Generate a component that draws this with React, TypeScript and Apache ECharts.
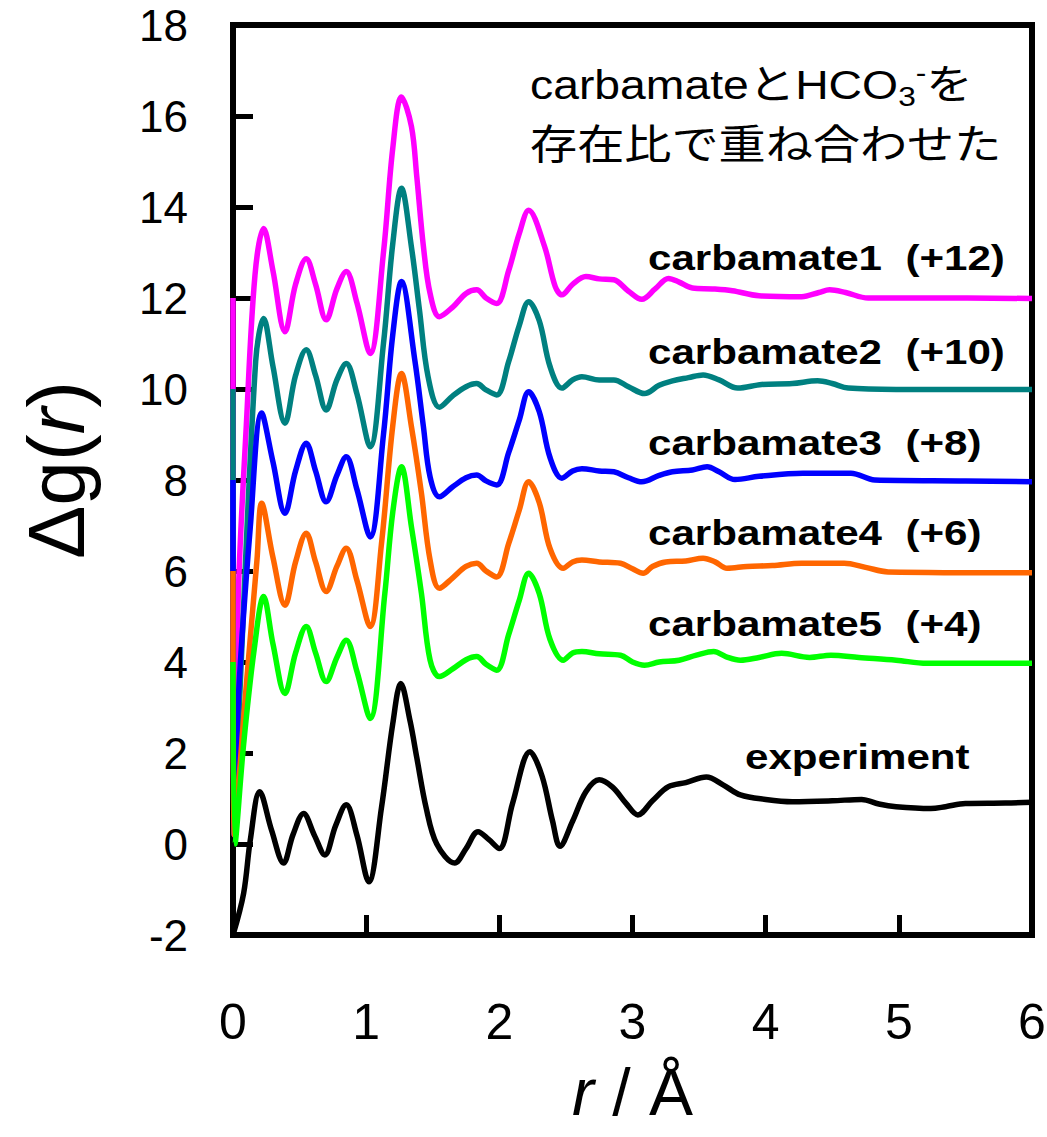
import React, { useEffect, useRef } from "react";
import * as echarts from "echarts";

// Δg(r) curves, [r (Å), Δg] pairs, before vertical shifting.
const carbamate1: number[][] = [
  [0, 0], [0.01, -11.8], [0.04, -6.5], [0.1, -2.8], [0.165, 0.5], [0.23, 1.53], [0.3, 0.6], [0.39, -0.74],
  [0.47, 0.3], [0.55, 0.86], [0.62, 0.3], [0.7, -0.48], [0.78, 0.2], [0.85, 0.58], [0.93, -0.1], [1.03, -1.22],
  [1.13, 1.0], [1.2, 3.3], [1.265, 4.42], [1.34, 3.77], [1.38, 2.67], [1.43, 1.13], [1.48, 0.1], [1.55, -0.41],
  [1.65, -0.2], [1.75, 0.1], [1.83, 0.18], [1.9, 0.0], [1.98, -0.12], [2.07, 0.6], [2.15, 1.42], [2.22, 1.93],
  [2.34, 1.13], [2.42, 0.25], [2.47, 0.07], [2.55, 0.3], [2.65, 0.47], [2.75, 0.42], [2.86, 0.4], [2.97, 0.15],
  [3.07, -0.03], [3.17, 0.2], [3.27, 0.43], [3.35, 0.35], [3.45, 0.22], [3.6, 0.2], [3.75, 0.16], [3.95, 0.05],
  [4.27, 0.03], [4.4, 0.12], [4.48, 0.18], [4.6, 0.12], [4.77, 0.0], [5.2, 0.0], [6.0, -0.01],
];

const carbamate2: number[][] = [
  [0, 0], [0.01, -9.8], [0.05, -6.8], [0.17, 0.6], [0.23, 1.55], [0.3, 0.5], [0.39, -0.75], [0.47, 0.3],
  [0.55, 0.86], [0.62, 0.3], [0.7, -0.46], [0.78, 0.2], [0.85, 0.56], [0.93, -0.1], [1.03, -1.27], [1.13, 1.0],
  [1.2, 3.2], [1.265, 4.41], [1.34, 3.12], [1.4, 1.74], [1.465, 0.27], [1.55, -0.4], [1.65, -0.15], [1.75, 0.05],
  [1.83, 0.12], [1.9, -0.02], [1.98, -0.13], [2.07, 0.6], [2.15, 1.4], [2.22, 1.92], [2.3, 1.5], [2.38, 0.5],
  [2.47, 0.02], [2.55, 0.2], [2.62, 0.27], [2.75, 0.2], [2.86, 0.2], [2.97, 0.05], [3.09, -0.1], [3.2, 0.08],
  [3.3, 0.18], [3.42, 0.25], [3.53, 0.31], [3.65, 0.2], [3.79, 0.02], [3.97, 0.1], [4.2, 0.12], [4.39, 0.18],
  [4.5, 0.12], [4.62, 0.02], [4.98, -0.01], [6.0, -0.01],
];

const carbamate3: number[][] = [
  [0, 0], [0.01, -7.8], [0.04, -4.8], [0.13, -1.03], [0.215, 1.47], [0.3, 0.4], [0.39, -0.73], [0.47, 0.2],
  [0.55, 0.81], [0.62, 0.2], [0.7, -0.48], [0.78, 0.1], [0.85, 0.51], [0.93, -0.2], [1.03, -1.25], [1.13, 1.0],
  [1.2, 3.2], [1.265, 4.36], [1.365, 2.64], [1.43, 1.17], [1.48, 0.07], [1.55, -0.37], [1.65, -0.15], [1.75, 0.05],
  [1.83, 0.11], [1.9, -0.02], [1.98, -0.11], [2.07, 0.6], [2.15, 1.32], [2.22, 1.94], [2.3, 1.5], [2.38, 0.5],
  [2.47, 0.04], [2.55, 0.2], [2.62, 0.25], [2.75, 0.2], [2.86, 0.18], [2.97, 0.05], [3.07, -0.04], [3.2, 0.1],
  [3.3, 0.18], [3.45, 0.22], [3.56, 0.29], [3.65, 0.18], [3.77, 0.01], [3.95, 0.08], [4.28, 0.15], [4.64, 0.15],
  [4.82, 0.0], [5.5, -0.02], [6.0, -0.04],
];

const carbamate4: number[][] = [
  [0, 0], [0.01, -5.8], [0.1, -2.5], [0.18, 0.24], [0.215, 1.49], [0.3, 0.3], [0.39, -0.75], [0.47, 0.2],
  [0.55, 0.83], [0.62, 0.2], [0.7, -0.45], [0.78, 0.1], [0.85, 0.5], [0.93, -0.2], [1.03, -1.22], [1.115, 0.6],
  [1.2, 3.2], [1.265, 4.34], [1.34, 3.17], [1.415, 1.71], [1.48, 0.24], [1.55, -0.38], [1.65, -0.15], [1.75, 0.1],
  [1.83, 0.17], [1.9, 0.0], [1.98, -0.13], [2.07, 0.6], [2.15, 1.34], [2.22, 1.96], [2.3, 1.5], [2.38, 0.5],
  [2.48, 0.06], [2.55, 0.2], [2.62, 0.24], [2.75, 0.2], [2.91, 0.17], [3.0, 0.05], [3.08, -0.05], [3.15, 0.1],
  [3.25, 0.2], [3.4, 0.22], [3.53, 0.28], [3.62, 0.2], [3.71, 0.06], [3.86, 0.1], [4.05, 0.12], [4.27, 0.17],
  [4.59, 0.17], [4.75, 0.08], [4.92, -0.02], [6.0, -0.04],
];

const carbamate5: number[][] = [
  [0, 0], [0.015, -4.0], [0.08, -1.8], [0.16, 0.3], [0.23, 1.44], [0.3, 0.4], [0.39, -0.69], [0.47, 0.2],
  [0.55, 0.78], [0.62, 0.2], [0.7, -0.43], [0.78, 0.1], [0.85, 0.48], [0.93, -0.2], [1.03, -1.24], [1.14, 1.5],
  [1.2, 3.3], [1.265, 4.29], [1.34, 2.97], [1.415, 1.51], [1.48, 0.04], [1.55, -0.32], [1.65, -0.15], [1.75, 0.05],
  [1.83, 0.12], [1.9, -0.05], [1.98, -0.18], [2.07, 0.6], [2.15, 1.36], [2.22, 1.95], [2.3, 1.5], [2.38, 0.5],
  [2.48, 0.04], [2.55, 0.2], [2.62, 0.23], [2.75, 0.18], [2.91, 0.15], [3.0, 0.0], [3.09, -0.07], [3.2, 0.0],
  [3.35, 0.04], [3.48, 0.15], [3.61, 0.23], [3.7, 0.12], [3.81, 0.04], [3.95, 0.1], [4.12, 0.19], [4.33, 0.1],
  [4.49, 0.15], [4.7, 0.1], [4.98, 0.04], [5.21, -0.03], [6.0, -0.03],
];

const experiment: number[][] = [
  [0, -2], [0.08, -1.08], [0.13, 0.09], [0.2, 1.15], [0.29, 0.3], [0.38, -0.42], [0.45, 0.2], [0.53, 0.67],
  [0.61, 0.2], [0.69, -0.24], [0.77, 0.4], [0.85, 0.86], [0.93, 0.2], [1.02, -0.83], [1.115, 0.8], [1.2, 2.65],
  [1.26, 3.53], [1.33, 2.7], [1.38, 1.9], [1.45, 0.8], [1.53, 0.0], [1.665, -0.42], [1.75, -0.1], [1.84, 0.27],
  [1.92, 0.1], [2.0, -0.1], [2.1, 0.9], [2.23, 2.03], [2.32, 1.5], [2.4, 0.5], [2.455, -0.05], [2.55, 0.5],
  [2.65, 1.15], [2.75, 1.41], [2.85, 1.25], [2.95, 0.9], [3.04, 0.64], [3.15, 0.95], [3.27, 1.26], [3.4, 1.35],
  [3.555, 1.47], [3.68, 1.3], [3.81, 1.08], [4.0, 0.98], [4.2, 0.93], [4.5, 0.95], [4.72, 0.98], [4.85, 0.88],
  [4.98, 0.82], [5.24, 0.78], [5.35, 0.82], [5.5, 0.89], [5.8, 0.9], [6.0, 0.92],
];

const SERIES_NAMES = ["carbamate1", "carbamate2", "carbamate3", "carbamate4", "carbamate5", "experiment"];
const SERIES_DATA = [carbamate1, carbamate2, carbamate3, carbamate4, carbamate5, experiment];
const OFFSETS = [12, 10, 8, 6, 4, 0];
const COLORS = ["#ff00ff", "#008080", "#0000ff", "#ff6600", "#00ff00", "#000000"];

const NOTE_LINE1 = "carbamateとHCO{sub|3}{sup|-}を";
const NOTE_LINE2 = "存在比で重ね合わせた";

const SANS = "'Liberation Sans', Arial, Helvetica, sans-serif";
const JP = "'Liberation Sans', 'Noto Sans CJK JP', sans-serif";

function curveLabel(i: number): string {
  return OFFSETS[i] > 0 ? `${SERIES_NAMES[i]}  (+${OFFSETS[i]})` : SERIES_NAMES[i];
}

export default function App() {
  const ref = useRef<HTMLDivElement>(null);

  useEffect(() => {
    if (!ref.current) return;
    const chart = echarts.init(ref.current, undefined, { renderer: "svg" });

    const series = SERIES_DATA.map((data, i) => ({
      name: SERIES_NAMES[i],
      type: "line",
      data: data.map(([r, v]) => [r, v + OFFSETS[i]]),
      showSymbol: false,
      smooth: 0.35,
      lineStyle: { color: COLORS[i], width: 5.5 },
      itemStyle: { color: COLORS[i] },
    }));

    // Curve labels sit to the right, above each shifted baseline.
    const labelY = [258, 352, 443, 533, 624, 757];
    const labelX = [648, 648, 648, 648, 648, 745];
    const curveLabels = SERIES_NAMES.map((_, i) => ({
      type: "text",
      x: labelX[i],
      y: labelY[i],
      scaleX: 1.17,
      z: 10,
      style: {
        text: curveLabel(i),
        fontFamily: SANS,
        fontWeight: "bold",
        fontSize: 36,
        fill: "#000",
        align: "left",
        verticalAlign: "middle",
        textAlign: "left",
        textVerticalAlign: "middle",
      },
    }));

    const note = [
      {
        type: "text",
        x: 530,
        y: 84,
        scaleX: 1.13,
        z: 10,
        style: {
          text: NOTE_LINE1,
          fontFamily: JP,
          fontSize: 41,
          lineHeight: 52,
          fill: "#000",
          align: "left",
          verticalAlign: "middle",
          textAlign: "left",
          textVerticalAlign: "middle",
          rich: {
            sub: { fontFamily: SANS, fontSize: 28, lineHeight: 28, verticalAlign: "bottom", fill: "#000" },
            sup: { fontFamily: SANS, fontSize: 28, lineHeight: 28, verticalAlign: "top", fill: "#000" },
          },
        },
      },
      {
        type: "text",
        x: 530,
        y: 141,
        scaleX: 1.15,
        z: 10,
        style: {
          text: NOTE_LINE2,
          fontFamily: "'Noto Sans CJK JP', sans-serif",
          fontSize: 41,
          fill: "#000",
          align: "left",
          verticalAlign: "middle",
          textAlign: "left",
          textVerticalAlign: "middle",
        },
      },
    ];

    chart.setOption({
      animation: false,
      backgroundColor: "#ffffff",
      grid: {
        left: 233,
        right: 15,
        top: 25,
        bottom: 202,
        outerBoundsMode: "none",
        containLabel: false,
        show: true,
        borderColor: "#000",
        borderWidth: 6,
        backgroundColor: "transparent",
      },
      xAxis: {
        type: "value",
        min: 0,
        max: 6,
        interval: 1,
        name: "{i|r} / Å",
        nameLocation: "middle",
        nameGap: 124,
        nameTextStyle: {
          fontFamily: SANS,
          fontSize: 66,
          lineHeight: 66,
          color: "#000",
          rich: { i: { fontFamily: SANS, fontStyle: "italic", fontSize: 66, lineHeight: 66, color: "#000" } },
        },
        axisLine: { onZero: false, lineStyle: { color: "#000", width: 6 } },
        axisTick: { inside: true, length: 20, lineStyle: { color: "#000", width: 5 } },
        axisLabel: { margin: 62, fontSize: 50, lineHeight: 50, fontFamily: SANS, color: "#000" },
        splitLine: { show: false },
      },
      yAxis: {
        type: "value",
        min: -2,
        max: 18,
        interval: 2,
        name: "Δg({i|r})",
        nameLocation: "middle",
        nameGap: 137,
        nameTextStyle: {
          fontFamily: SANS,
          fontSize: 80,
          lineHeight: 80,
          color: "#000",
          padding: [0, 0, 0, 20],
          rich: { i: { fontFamily: SANS, fontStyle: "italic", fontSize: 80, lineHeight: 80, color: "#000" } },
        },
        axisLine: { onZero: false, lineStyle: { color: "#000", width: 6 } },
        axisTick: { inside: true, length: 20, lineStyle: { color: "#000", width: 5 } },
        axisLabel: { margin: 45, fontSize: 44, fontFamily: SANS, color: "#000", padding: [14, 0, 0, 0] },
        splitLine: { show: false },
      },
      series,
      graphic: [...note, ...curveLabels],
    });

    return () => chart.dispose();
  }, []);

  return (
    <div
      ref={ref}
      style={{ position: "absolute", left: 0, top: 0, width: 1047, height: 1137, background: "#fff" }}
    />
  );
}
